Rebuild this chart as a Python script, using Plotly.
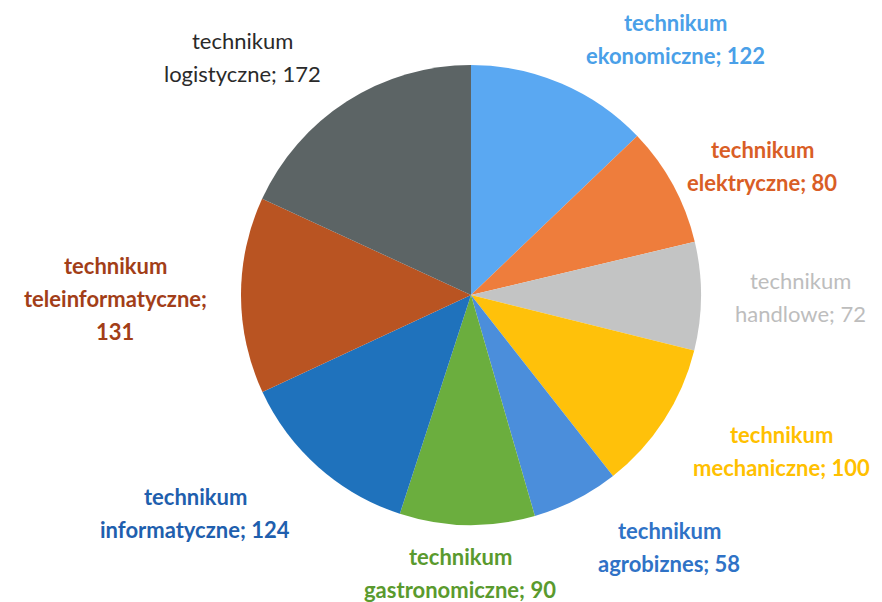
import plotly.graph_objects as go

categories = ["technikum ekonomiczne", "technikum elektryczne", "technikum handlowe",
              "technikum mechaniczne", "technikum agrobiznes", "technikum gastronomiczne",
              "technikum informatyczne", "technikum teleinformatyczne", "technikum logistyczne"]
values = [122, 80, 72, 100, 58, 90, 124, 131, 172]
label_lines = [["technikum", "ekonomiczne; 122"], ["technikum", "elektryczne; 80"],
               ["technikum", "handlowe; 72"], ["technikum", "mechaniczne; 100"],
               ["technikum", "agrobiznes; 58"], ["technikum", "gastronomiczne; 90"],
               ["technikum", "informatyczne; 124"], ["technikum", "teleinformatyczne;", "131"],
               ["technikum", "logistyczne; 172"]]

slice_colors = ["#5AA8F2", "#EE7D3C", "#C3C4C4", "#FFC10A", "#4B8EDB",
                "#6BAE3E", "#1F72BC", "#B95422", "#5C6465"]
text_colors = ["#4AA0E8", "#D95E26", "#BDBDBD", "#FFC000", "#2F72C6",
               "#5A9A2E", "#1F5FAE", "#A23E18", "#2A2A2A"]
text_bold = [True, True, False, True, True, True, True, True, False]
# label centres in pixels (x, y from top)
label_pos = [(675, 39), (762, 166), (800, 297), (781, 451), (669, 547),
             (460, 573), (195, 513), (115, 298), (242, 57)]
line_gap = 33

W, H = 882, 602
cx, cy, r = 471, 295, 230

fig = go.Figure(go.Pie(
    labels=categories, values=values, sort=False, direction="clockwise",
    rotation=0, textinfo="none", hoverinfo="label+value",
    marker=dict(colors=slice_colors, line=dict(width=0)),
    domain=dict(x=[(cx - r) / W, (cx + r) / W], y=[(H - cy - r) / H, (H - cy + r) / H]),
    showlegend=False,
))

for lines, col, b, (px, py) in zip(label_lines, text_colors, text_bold, label_pos):
    n = len(lines)
    for i, ln in enumerate(lines):
        ly = py + (i - (n - 1) / 2) * line_gap
        fig.add_annotation(
            x=px / W, y=1 - ly / H, xref="paper", yref="paper", text=ln,
            showarrow=False, xanchor="center", yanchor="middle", align="center",
            font=dict(family="Lato", size=22, color=col, weight="bold" if b else "normal"),
        )

fig.update_layout(width=W, height=H, margin=dict(l=0, r=0, t=0, b=0),
                  paper_bgcolor="white", plot_bgcolor="white")
fig.write_html("out.html", config={"displayModeBar": False},
               post_script="document.body.style.margin='0';")
